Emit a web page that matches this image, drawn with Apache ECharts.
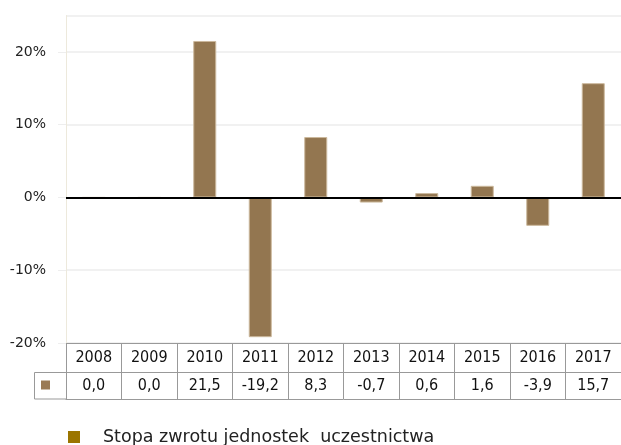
<!DOCTYPE html>
<html>
<head>
<meta charset="utf-8">
<script src="https://cdn.jsdelivr.net/npm/echarts@6/dist/echarts.min.js"></script>
<style>html,body{margin:0;padding:0;background:#fff;}#c{width:621px;height:445px;}</style>
</head>
<body>
<div id="c"></div>
<script>
const years = ['2008','2009','2010','2011','2012','2013','2014','2015','2016','2017'];
const returns = [0.0, 0.0, 21.5, -19.2, 8.3, -0.7, 0.6, 1.6, -3.9, 15.7];
const seriesName = 'Stopa zwrotu jednostek  uczestnictwa';
const yTicks = { min: -20, max: 25, interval: 10 };

const fmt = v => v.toFixed(1).replace('.', ',');
const valueLabels = returns.map(fmt);

const G = { left: 66, top: 15.5, bottom: 102, width: 556 };
const H = 445;
const plotBottom = H - G.bottom;          // 343
const row1 = 29.5, row2 = 26.5;
const border = '#999999';
const tableFont = '"DejaVu Sans Condensed", "DejaVu Sans", sans-serif';
const font = '"DejaVu Sans", sans-serif';

const chart = echarts.init(document.getElementById('c'), null, { renderer: 'canvas' });
chart.setOption({
  animation: false,
  backgroundColor: '#fff',
  grid: { left: G.left, top: G.top, bottom: G.bottom, width: G.width, containLabel: false },
  legend: {
    left: 68, top: 428, padding: 0,
    itemWidth: 12, itemHeight: 12,
    icon: 'rect',
    data: [{ name: seriesName, itemStyle: { color: '#9b7500', borderWidth: 0 } }],
    textStyle: { fontFamily: font, fontSize: 17.5, color: '#222', padding: [0, 0, 0, 18] }
  },
  xAxis: [
    {
      type: 'category', data: years, position: 'bottom',
      axisLine: { show: true, onZero: false, lineStyle: { color: border, width: 1 } },
      axisTick: { show: true, interval: 0, length: row1 + row2, lineStyle: { color: border } },
      axisLabel: { interval: 0, margin: 7, fontFamily: tableFont, fontSize: 16, color: '#111' },
      splitLine: { show: false }
    },
    {
      type: 'category', data: valueLabels, position: 'bottom', offset: row1,
      axisLine: { show: true, onZero: false, lineStyle: { color: border, width: 1 } },
      axisTick: { show: false },
      axisLabel: { interval: 0, margin: 5, fontFamily: tableFont, fontSize: 16, color: '#111' }
    },
    {
      type: 'category', data: years, position: 'bottom', offset: row1 + row2,
      axisLine: { show: true, onZero: false, lineStyle: { color: border, width: 1 } },
      axisTick: { show: false },
      axisLabel: { show: false }
    }
  ],
  yAxis: {
    type: 'value', min: yTicks.min, max: yTicks.max, interval: yTicks.interval,
    axisLine: { show: true, lineStyle: { color: '#ede9dc' } },
    axisTick: { show: true, length: 8, lineStyle: { color: '#eeeeee' } },
    splitLine: { show: true, lineStyle: { color: '#ececec', width: 1.5 } },
    axisLabel: {
      showMaxLabel: false, margin: 20,
      formatter: '{value}%', fontFamily: font, fontSize: 14, color: '#222'
    }
  },
  series: [{
    name: seriesName,
    type: 'bar',
    xAxisIndex: 0,
    data: returns,
    barWidth: 23,
    itemStyle: { color: '#937650', borderColor: '#cbb89c', borderWidth: 1 },
    markLine: {
      silent: true, symbol: 'none', label: { show: false },
      lineStyle: { color: '#000', width: 2, type: 'solid' },
      data: [{ yAxis: 0 }]
    }
  }],
  graphic: [
    { type: 'line', shape: { x1: 34.5, y1: plotBottom + row1, x2: G.left, y2: plotBottom + row1 }, style: { stroke: border, lineWidth: 1 } },
    { type: 'line', shape: { x1: 34.5, y1: plotBottom + row1 + row2, x2: G.left, y2: plotBottom + row1 + row2 }, style: { stroke: border, lineWidth: 1 } },
    { type: 'line', shape: { x1: 34.5, y1: plotBottom + row1, x2: 34.5, y2: plotBottom + row1 + row2 }, style: { stroke: border, lineWidth: 1 } },
    { type: 'rect', shape: { x: 41, y: plotBottom + row1 + 8, width: 9, height: 9 }, style: { fill: '#9a7a55' } }
  ]
});
</script>
</body>
</html>
